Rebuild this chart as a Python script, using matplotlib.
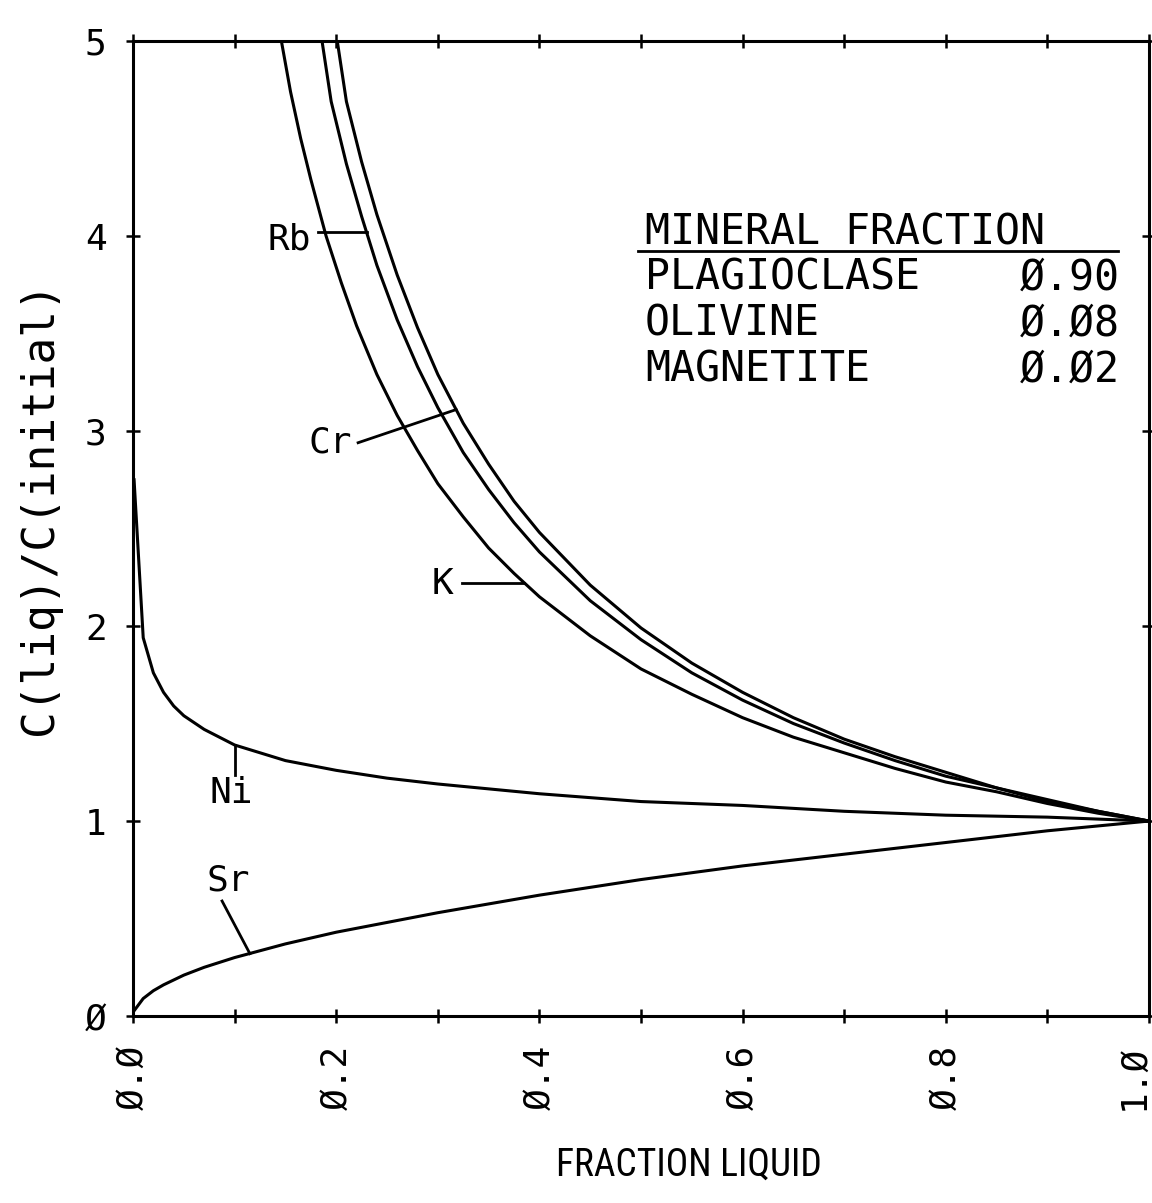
import numpy as np
import matplotlib
matplotlib.use('Agg')
import matplotlib.pyplot as plt
import matplotlib.transforms as mtransforms

MONO = ['DejaVu Sans Mono']
NARROW = ['Roboto Condensed', 'Liberation Sans Narrow', 'DejaVu Sans Mono']

# readings: fraction liquid -> C(liq)/C(initial)
frac_k = [0.146, 0.155, 0.165, 0.175, 0.19, 0.205, 0.22, 0.24, 0.26, 0.28, 0.30,
          0.325, 0.35, 0.375, 0.40, 0.45, 0.50, 0.55, 0.60, 0.65, 0.70, 0.75,
          0.80, 0.85, 0.90, 0.95, 1.00]
conc_k = [5.00, 4.74, 4.50, 4.29, 4.00, 3.76, 3.54, 3.29, 3.08, 2.90, 2.73,
          2.56, 2.40, 2.27, 2.15, 1.95, 1.78, 1.65, 1.53, 1.43, 1.35, 1.27,
          1.20, 1.15, 1.09, 1.04, 1.00]

frac_rb = [0.186, 0.195, 0.21, 0.225, 0.24, 0.26, 0.28, 0.30, 0.325, 0.35,
           0.375, 0.40, 0.45, 0.50, 0.55, 0.60, 0.65, 0.70, 0.75, 0.80,
           0.85, 0.90, 0.95, 1.00]
conc_rb = [5.00, 4.69, 4.37, 4.10, 3.85, 3.57, 3.33, 3.12, 2.89, 2.70,
           2.53, 2.38, 2.13, 1.93, 1.76, 1.62, 1.50, 1.40, 1.31, 1.23,
           1.17, 1.10, 1.05, 1.00]

frac_cr = [0.201, 0.21, 0.225, 0.24, 0.26, 0.28, 0.30, 0.325, 0.35, 0.375,
           0.40, 0.45, 0.50, 0.55, 0.60, 0.65, 0.70, 0.75, 0.80, 0.85,
           0.90, 0.95, 1.00]
conc_cr = [5.00, 4.69, 4.38, 4.11, 3.80, 3.53, 3.29, 3.04, 2.83, 2.64,
           2.48, 2.21, 1.99, 1.81, 1.66, 1.53, 1.42, 1.33, 1.25, 1.17,
           1.11, 1.05, 1.00]

frac_ni = [0.001, 0.01, 0.02, 0.03, 0.04, 0.05, 0.07, 0.10, 0.15, 0.20,
           0.25, 0.30, 0.40, 0.50, 0.60, 0.70, 0.80, 0.90, 1.00]
conc_ni = [2.75, 1.94, 1.76, 1.66, 1.59, 1.54, 1.47, 1.39, 1.31, 1.26,
           1.22, 1.19, 1.14, 1.10, 1.08, 1.05, 1.03, 1.02, 1.00]

frac_sr = [0.001, 0.01, 0.02, 0.03, 0.05, 0.07, 0.10, 0.15, 0.20, 0.25,
           0.30, 0.40, 0.50, 0.60, 0.70, 0.80, 0.90, 1.00]
conc_sr = [0.027, 0.09, 0.13, 0.16, 0.21, 0.25, 0.30, 0.37, 0.43, 0.48,
           0.53, 0.62, 0.70, 0.77, 0.83, 0.89, 0.95, 1.00]

minerals = ['PLAGIOCLASE', 'OLIVINE', 'MAGNETITE']
mineral_frac = ['Ø.90', 'Ø.Ø8', 'Ø.Ø2']

xticks = [0.0, 0.1, 0.2, 0.3, 0.4, 0.5, 0.6, 0.7, 0.8, 0.9, 1.0]
xticklabels = ['Ø.Ø', '', 'Ø.2', '', 'Ø.4', '', 'Ø.6', '', 'Ø.8', '', '1.Ø']
yticks = [0, 1, 2, 3, 4, 5]
yticklabels = ['Ø', '1', '2', '3', '4', '5']

fig = plt.figure(figsize=(11.52, 12.03), dpi=100)
ax = fig.add_axes([0.1155, 0.1554, 0.8819, 0.8105])

for f, c in [(frac_k, conc_k), (frac_rb, conc_rb), (frac_cr, conc_cr),
             (frac_ni, conc_ni), (frac_sr, conc_sr)]:
    ax.plot(f, c, color='black', lw=2.2, solid_joinstyle='round')

ax.set_xlim(0, 1)
ax.set_ylim(0, 5)
ax.set_xticks(xticks)
ax.set_xticklabels(xticklabels, rotation=90, family=MONO, fontsize=26)
ax.set_yticks(yticks)
ax.set_yticklabels(yticklabels, family=MONO, fontsize=26)
ax.tick_params(direction='inout', length=10, width=1.8, top=True, right=True,
               colors='black')
ax.tick_params(axis='x', pad=16)
ax.tick_params(axis='y', pad=14)
for s in ax.spines.values():
    s.set_linewidth(2.2)

# last x label sits a bit left of its tick, as in the original
last = ax.get_xticklabels()[-1]
last.set_transform(last.get_transform() +
                   mtransforms.ScaledTranslation(-16 / 100, 0, fig.dpi_scale_trans))

# curve labels with leader lines
lab = dict(family=MONO, fontsize=26, ha='center', va='center', transform=ax.transAxes)
ax.text(0.154, 0.796, 'Rb', **lab)
ax.text(0.194, 0.588, 'Cr', **lab)
ax.text(0.305, 0.443, 'K', **lab)
ax.text(0.097, 0.229, 'Ni', **lab)
ax.text(0.0935, 0.139, 'Sr', **lab)
lead = dict(color='black', lw=2)
ax.plot([0.182, 0.230], [4.02, 4.02], **lead)
ax.plot([0.2215, 0.318], [2.94, 3.11], **lead)
ax.plot([0.324, 0.385], [2.22, 2.22], **lead)
ax.plot([0.10, 0.10], [1.236, 1.39], **lead)
ax.plot([0.0876, 0.115], [0.59, 0.32], **lead)

# mineral fraction table
ax.text(0.504, 0.791, 'MINERAL FRACTION', family=MONO, fontsize=30,
        ha='left', va='baseline', transform=ax.transAxes)
ax.plot([0.497, 0.969], [0.785, 0.785], color='black', lw=2, transform=ax.transAxes)
for i, (m, v) in enumerate(zip(minerals, mineral_frac)):
    y = 0.745 - i * 0.047
    ax.text(0.504, y, m, family=MONO, fontsize=30, ha='left', va='baseline',
            transform=ax.transAxes)
    ax.text(0.971, y, v, family=MONO, fontsize=30, ha='right', va='baseline',
            transform=ax.transAxes)

fig.text(40 / 1152, 1 - 508 / 1203, 'C(liq)/C(initial)', rotation=90,
         family=MONO, fontsize=32, ha='center', va='center')
fig.text(0.598, 0.0316, 'FRACTION LIQUID', family=NARROW, fontsize=27,
         ha='center', va='center')

fig.savefig('out.png', dpi=100, facecolor='white')
